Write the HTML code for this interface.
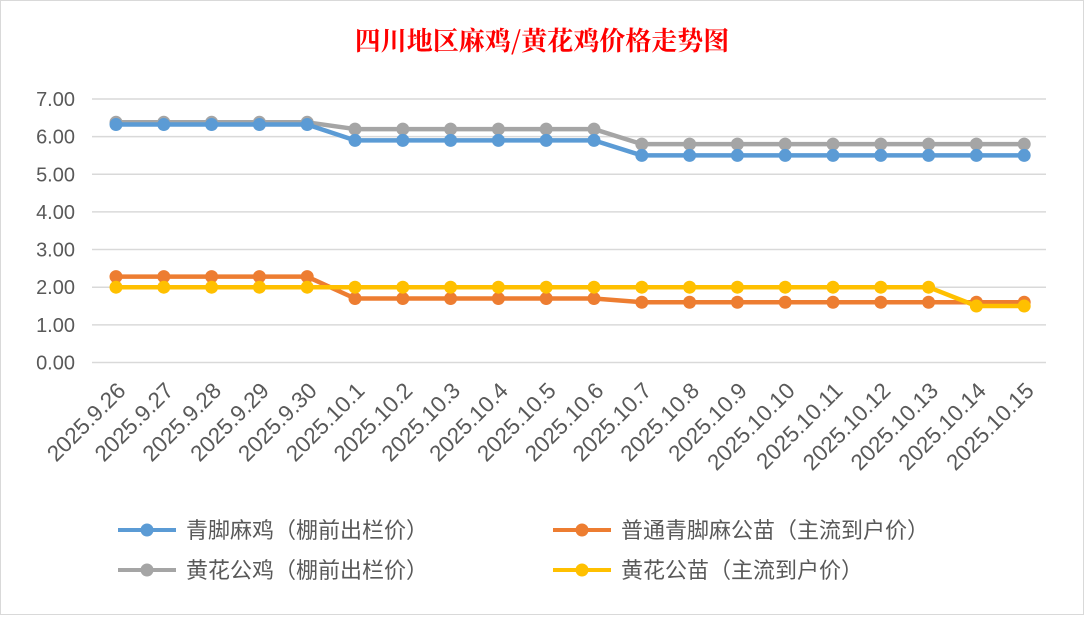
<!DOCTYPE html>
<html><head><meta charset="utf-8"><style>
body{margin:0;background:#fff;}
svg text{font-family:"Liberation Sans","Noto Sans CJK SC",sans-serif;}
</style></head><body>
<svg width="1084" height="615" xmlns="http://www.w3.org/2000/svg">
<rect x="0.5" y="0.5" width="1083" height="614" fill="#fff" stroke="#d9d9d9"/>
<text x="542" y="50" text-anchor="middle" font-size="26" font-weight="bold" fill="#ff0000" style="font-family:'Noto Serif CJK SC','Noto Sans CJK SC',serif">四川地区麻鸡/黄花鸡价格走势图</text>
<g id="grid" stroke="#d9d9d9" stroke-width="1.5"></g>
<g id="ylab" font-size="20" fill="#595959" text-anchor="end"></g>
<g id="xlab" font-size="22.5" fill="#595959" text-anchor="end"></g>
<g id="series"></g>
<g font-size="22" fill="#595959">
<line x1="118" y1="530" x2="176" y2="530" stroke="#5b9bd5" stroke-width="4"/><circle cx="147" cy="530" r="6.5" fill="#5b9bd5"/>
<text x="186" y="538">青脚麻鸡（棚前出栏价）</text>
<line x1="553" y1="530" x2="611" y2="530" stroke="#ed7d31" stroke-width="4"/><circle cx="582" cy="530" r="6.5" fill="#ed7d31"/>
<text x="621" y="538">普通青脚麻公苗（主流到户价）</text>
<line x1="118" y1="570" x2="176" y2="570" stroke="#a5a5a5" stroke-width="4"/><circle cx="147" cy="570" r="6.5" fill="#a5a5a5"/>
<text x="186" y="578">黄花公鸡（棚前出栏价）</text>
<line x1="553" y1="570" x2="611" y2="570" stroke="#ffc000" stroke-width="4"/><circle cx="582" cy="570" r="6.5" fill="#ffc000"/>
<text x="621" y="578">黄花公苗（主流到户价）</text>
</g>
</svg>
<script>
const ns="http://www.w3.org/2000/svg";
const y0=362.5,u=37.65,x0=116,dx=47.8;
const Y=v=>y0-v*u, X=i=>x0+i*dx;
function el(t,a,p,txt){const e=document.createElementNS(ns,t);for(const k in a)e.setAttribute(k,a[k]);if(txt)e.textContent=txt;document.getElementById(p).appendChild(e);return e;}
for(let v=0;v<=7;v++){el('line',{x1:92,x2:1046,y1:Y(v),y2:Y(v)},'grid');el('text',{x:75,y:Y(v)+7},'ylab',v.toFixed(2));}
const labels=["2025.9.26","2025.9.27","2025.9.28","2025.9.29","2025.9.30","2025.10.1","2025.10.2","2025.10.3","2025.10.4","2025.10.5","2025.10.6","2025.10.7","2025.10.8","2025.10.9","2025.10.10","2025.10.11","2025.10.12","2025.10.13","2025.10.14","2025.10.15"];
labels.forEach((l,i)=>{el('text',{x:0,y:0,transform:`translate(${X(i)+11},${392}) rotate(-45)`},'xlab',l);});
const rep=(a,n)=>Array(n).fill(a);
const S=[
["#a5a5a5",[...rep(6.38,5),...rep(6.2,6),...rep(5.8,9)]],
["#5b9bd5",[...rep(6.32,5),...rep(5.9,6),...rep(5.5,9)]],
["#ed7d31",[...rep(2.28,5),...rep(1.7,6),...rep(1.6,9)]],
["#ffc000",[...rep(2.0,18),1.5,1.5]]];
S.forEach(([c,d])=>{el('polyline',{points:d.map((v,i)=>X(i)+','+Y(v)).join(' '),fill:'none',stroke:c,'stroke-width':4.5,'stroke-linejoin':'round'},'series');d.forEach((v,i)=>el('circle',{cx:X(i),cy:Y(v),r:6.5,fill:c},'series'));});
</script>
</body></html>
